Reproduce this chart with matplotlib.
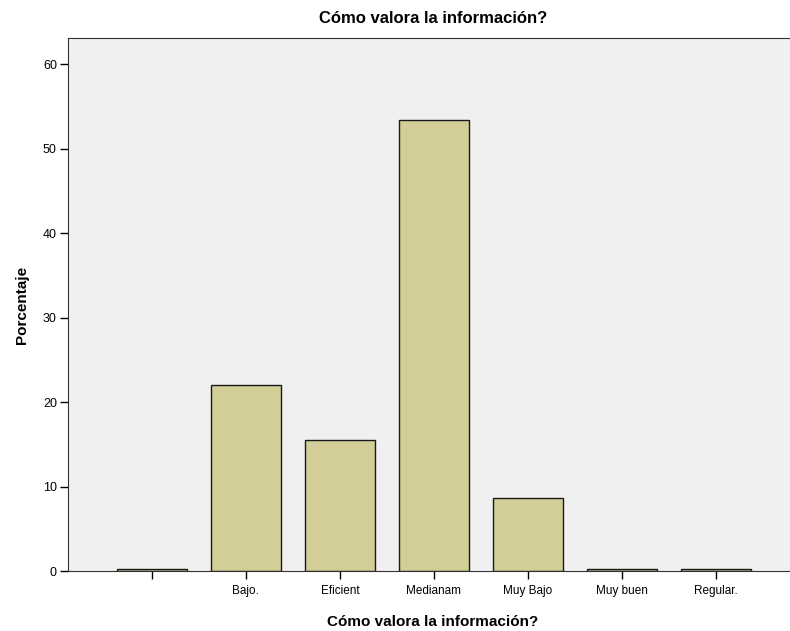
import matplotlib
matplotlib.use("Agg")
import matplotlib.pyplot as plt

categories = ['', 'Bajo.', 'Eficient', 'Medianam', 'Muy Bajo', 'Muy buen', 'Regular.']
percentages = [0.2, 22.0, 15.5, 53.4, 8.7, 0.2, 0.2]

plt.rcParams['font.family'] = ['Liberation Sans', 'DejaVu Sans']

fig = plt.figure(figsize=(7.9, 6.31), dpi=100)
ax = fig.add_axes([68 / 790, 60 / 631, 1 - 68 / 790 + 0.01, (571 - 38) / 631])
ax.set_facecolor('#F0F0F0')

x = range(len(categories))
ax.bar(x, percentages, width=0.74, color='#D3CE98', edgecolor='#1a1a1a', linewidth=1.0)

ax.set_xlim(-0.89, 6.87)
ax.set_ylim(0, 63.1)
ax.set_yticks(range(0, 61, 10))
ax.set_xticks(list(x))
ax.set_xticklabels(categories, fontsize=8.5)
ax.tick_params(axis='y', labelsize=9, length=6, width=1, pad=2)
ax.tick_params(axis='x', length=6, width=1, pad=4)

for side in ['left', 'bottom', 'top']:
    ax.spines[side].set_color('#333333')
ax.spines['right'].set_visible(False)

ax.set_ylabel('Porcentaje', fontsize=11, fontweight='bold', labelpad=10)
ax.set_xlabel('Cómo valora la información?', fontsize=11, fontweight='bold', labelpad=13)
ax.set_title('Cómo valora la información?', fontsize=12, fontweight='bold', pad=11)

plt.savefig('out.png', dpi=100, facecolor='white')
plt.close()
